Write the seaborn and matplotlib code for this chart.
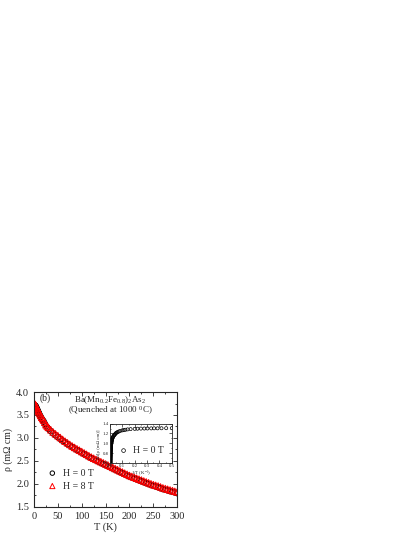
import matplotlib
matplotlib.use("Agg")
import matplotlib.pyplot as plt
import seaborn as sns
import numpy as np
import pandas as pd
from matplotlib.ticker import MultipleLocator

# temperature points (K)
T = [2, 2.2, 2.4, 2.6, 2.8, 3, 3.3, 3.6, 4, 4.5, 5, 6, 7, 8, 9, 10, 12, 14, 16, 18, 20, 22.5,
     25, 27.5, 30, 35, 40, 45, 50, 55, 60, 65, 70, 75, 80, 85, 90, 95, 100,
     105, 110, 115, 120, 125, 130, 135, 140, 145, 150, 155, 160, 165, 170, 175, 180,
     185, 190, 195, 200, 205, 210, 215, 220, 225, 230, 235, 240, 245, 250,
     255, 260, 265, 270, 275, 280, 285, 290, 295, 300]

# resistivity at H = 0 T (mOhm cm)
rho_0T = [3.70, 3.70, 3.695, 3.69, 3.69, 3.685, 3.68, 3.675, 3.67, 3.66, 3.65, 3.63, 3.61, 3.58, 3.56, 3.54,
          3.50, 3.46, 3.42, 3.39, 3.36, 3.31,
          3.26, 3.23, 3.20, 3.15, 3.10, 3.06, 3.02, 2.98, 2.94, 2.905, 2.87, 2.835, 2.80, 2.77, 2.74, 2.71, 2.68,
          2.65, 2.62, 2.59, 2.56, 2.535, 2.51, 2.485, 2.46, 2.435, 2.41, 2.385, 2.36, 2.335, 2.31, 2.285, 2.26,
          2.235, 2.21, 2.185, 2.16, 2.14, 2.12, 2.10, 2.08, 2.06, 2.04, 2.02, 2.00, 1.98, 1.96,
          1.945, 1.93, 1.91, 1.89, 1.875, 1.86, 1.845, 1.83, 1.815, 1.80]

# resistivity at H = 8 T (mOhm cm)
rho_8T = [3.73, 3.73, 3.725, 3.72, 3.72, 3.715, 3.71, 3.705, 3.70, 3.69, 3.68, 3.66, 3.64, 3.61, 3.59, 3.57,
          3.53, 3.49, 3.45, 3.42, 3.39, 3.34,
          3.29, 3.26, 3.23, 3.18, 3.13, 3.09, 3.05, 3.01, 2.97, 2.93, 2.895, 2.86, 2.825, 2.795, 2.765, 2.735, 2.705,
          2.675, 2.645, 2.615, 2.585, 2.56, 2.535, 2.51, 2.485, 2.46, 2.435, 2.41, 2.385, 2.36, 2.335, 2.31, 2.285,
          2.26, 2.235, 2.21, 2.185, 2.165, 2.145, 2.125, 2.105, 2.085, 2.065, 2.045, 2.025, 2.005, 1.985,
          1.97, 1.955, 1.935, 1.915, 1.90, 1.885, 1.87, 1.855, 1.84, 1.825]

df = pd.DataFrame({"T": T, "rho0": rho_0T, "rho8": rho_8T})
df["invT"] = 1.0 / df["T"]
df["lnrho"] = np.log(df["rho0"])

sns.set_theme(style="ticks")
plt.rcParams["font.family"] = ["Liberation Serif", "DejaVu Serif"]
plt.rcParams["mathtext.default"] = "regular"
plt.rcParams["xtick.direction"] = "in"
plt.rcParams["ytick.direction"] = "in"
plt.rcParams["axes.linewidth"] = 0.8

fig = plt.figure(figsize=(4.15, 5.37), dpi=100)
ax = fig.add_axes([0.082, 0.056, 0.345, 0.214])

# main curves
sns.scatterplot(x="T", y="rho0", data=df, ax=ax, marker="o", s=16,
                facecolor="none", edgecolor="black", linewidth=0.7, label="H = 0 T")
sns.scatterplot(x="T", y="rho8", data=df, ax=ax, marker="^", s=22,
                facecolor="none", edgecolor="red", linewidth=0.7, label="H = 8 T")

ax.set_xlim(0, 300)
ax.set_ylim(1.5, 4.0)
ax.xaxis.set_major_locator(MultipleLocator(50))
ax.xaxis.set_minor_locator(MultipleLocator(25))
ax.yaxis.set_major_locator(MultipleLocator(0.5))
ax.yaxis.set_minor_locator(MultipleLocator(0.25))
ax.tick_params(which="both", top=True, right=True, labelsize=7.5, width=0.6)
ax.tick_params(which="major", length=3)
ax.tick_params(which="minor", length=1.5)
ax.set_xlabel("T (K)", fontsize=7.5, labelpad=1)
ax.set_ylabel("ρ (mΩ cm)", fontsize=7, labelpad=2)

ax.text(12, 3.80, "(b)", fontsize=7)
ax.text(160, 3.78, "Ba(Mn$_{0.2}$Fe$_{0.8}$)$_2$As$_2$", fontsize=6.5, ha="center")
ax.text(160, 3.53, "(Quenched at 1000 $^{0}$C)", fontsize=6.5, ha="center")

ax.legend(loc="lower left", bbox_to_anchor=(0.06, 0.1), frameon=False, fontsize=7,
          handletextpad=0.6, labelspacing=0.4, handlelength=1.0, borderpad=0, markerscale=0.8)

# inset: ln(rho) vs 1/T
axin = fig.add_axes([0.265, 0.138, 0.149, 0.073])
sns.scatterplot(x="invT", y="lnrho", data=df, ax=axin, marker="o", s=5,
                facecolor="none", edgecolor="black", linewidth=0.5, label="H = 0 T")
axin.set_xlim(0, 0.5)
axin.set_ylim(0.6, 1.4)
axin.xaxis.set_major_locator(MultipleLocator(0.1))
axin.xaxis.set_minor_locator(MultipleLocator(0.05))
axin.yaxis.set_major_locator(MultipleLocator(0.2))
axin.yaxis.set_minor_locator(MultipleLocator(0.1))
axin.tick_params(which="both", top=True, right=True, labelsize=3.5, width=0.5, pad=1)
axin.tick_params(which="major", length=2)
axin.tick_params(which="minor", length=1)
for s in axin.spines.values():
    s.set_linewidth(0.6)
axin.set_xlabel("1/T (K$^{-1}$)", fontsize=3.5, labelpad=0.5)
axin.set_ylabel("ln[ρ (mΩ cm)]", fontsize=3.5, labelpad=1)
axin.legend(loc="lower right", frameon=False, fontsize=7, handletextpad=0.5,
            handlelength=1.0, borderpad=0.3, markerscale=1.2)

plt.savefig("out.png", dpi=100)
